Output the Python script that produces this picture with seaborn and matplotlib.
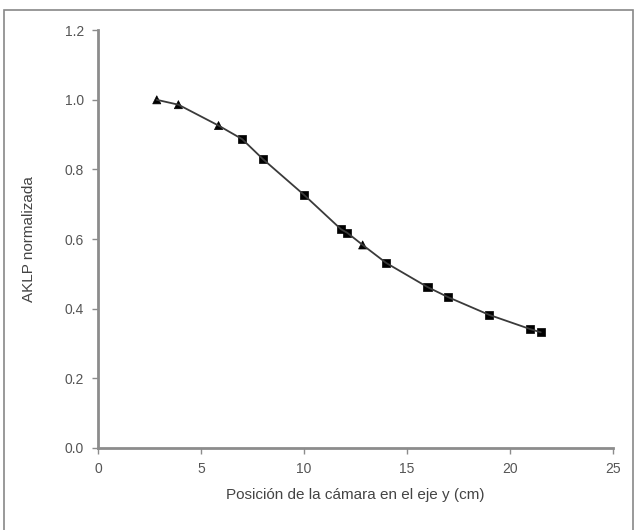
import numpy as np
import pandas as pd
import seaborn as sns
import matplotlib.pyplot as plt
from matplotlib.patches import Rectangle


# camera position along y (cm) and normalised AKLP
tri_x = [2.85, 3.9, 5.85, 12.85]
tri_y = [1.0, 0.986, 0.926, 0.583]
sq_x = [7.0, 8.0, 10.0, 11.8, 12.1, 14.0, 16.0, 17.0, 19.0, 21.0, 21.5]
sq_y = [0.887, 0.830, 0.727, 0.628, 0.618, 0.531, 0.462, 0.433, 0.382, 0.341, 0.332]

x_ticks = [0, 5, 10, 15, 20, 25]
y_ticks = [0.0, 0.2, 0.4, 0.6, 0.8, 1.0, 1.2]

df = pd.DataFrame({
    'x': tri_x + sq_x,
    'y': tri_y + sq_y,
    'tipo': ['tri'] * len(tri_x) + ['sq'] * len(sq_x),
}).sort_values('x')

sns.set_style('white')
plt.rcParams['font.family'] = ['Liberation Sans', 'DejaVu Sans']

fig = plt.figure(figsize=(6.37, 5.30), dpi=100)
ax = fig.add_axes([0.154, 0.155, 0.808, 0.788])

sns.lineplot(data=df, x='x', y='y', color='#3a3a3a', lw=1.3, sort=True, ax=ax)
sns.scatterplot(data=df, x='x', y='y', style='tipo', markers={'tri': '^', 'sq': 's'},
                color='black', s=34, edgecolor='black', linewidth=0.5, legend=False, ax=ax)

ax.set_xlim(0, 25)
ax.set_ylim(0, 1.2)
ax.set_xticks(x_ticks)
ax.set_yticks(y_ticks)
ax.set_xticklabels([str(t) for t in x_ticks])
ax.set_yticklabels(['%.1f' % t for t in y_ticks])

for side in ['top', 'right']:
    ax.spines[side].set_visible(False)
for side in ['left', 'bottom']:
    ax.spines[side].set_color('#8c8c8c')
    ax.spines[side].set_linewidth(2)

ax.tick_params(axis='both', direction='out', length=4, width=1, color='#8c8c8c',
               labelsize=10, labelcolor='#555555', pad=6, left=True, bottom=True)

ax.set_xlabel('Posición de la cámara en el eje y (cm)', fontsize=11, color='#444444', labelpad=9)
ax.set_ylabel('AKLP normalizada', fontsize=11, color='#444444', labelpad=21)

# outer frame of the picture
fig.patches.append(Rectangle((4 / 637, -0.02), 629 / 637, 1.0 - 10 / 530 + 0.02,
                             transform=fig.transFigure, fill=False,
                             edgecolor='#888888', lw=1.2))

fig.savefig('out.png', dpi=100)
